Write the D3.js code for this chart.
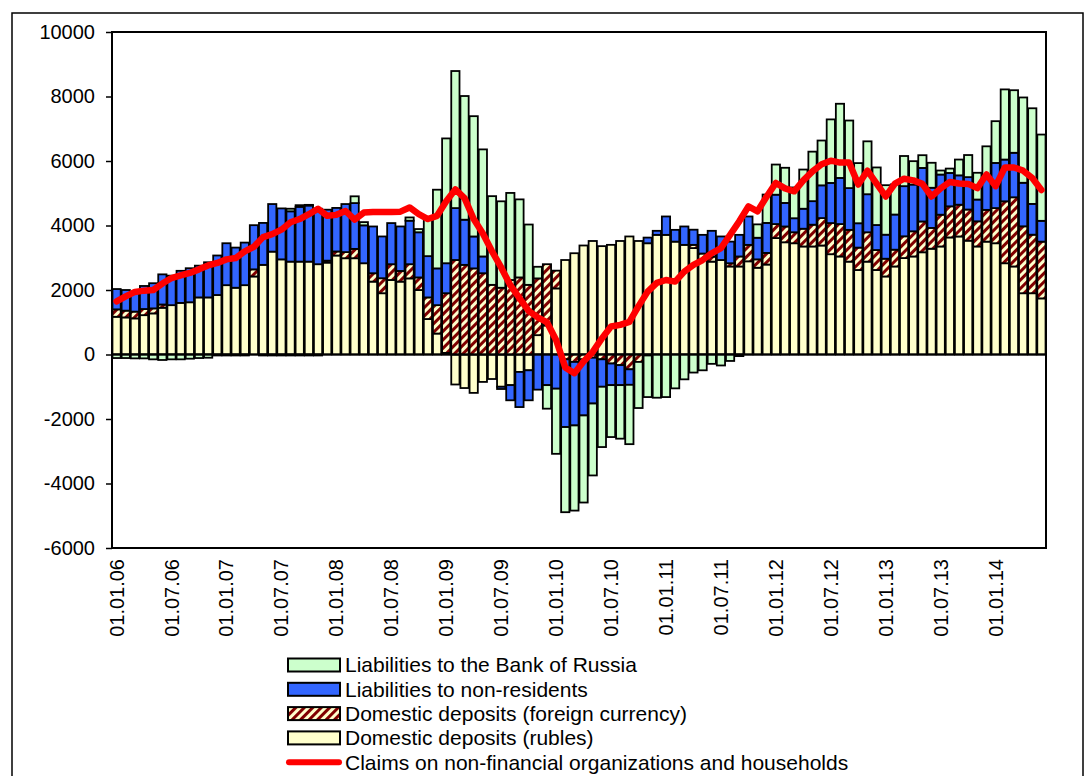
<!DOCTYPE html>
<meta charset="utf-8">

<!-- Load d3.js -->
<script src="https://d3js.org/d3.v7.min.js"></script>

<style>
  body { margin: 0; background: #fff; }
  text { font-family: "Liberation Sans", Arial, sans-serif; }
</style>

<body>
<div id="chart"></div>

<script>

// monthly values, 01.01.06 .. 01.06.14
var rubles = [1170,1150,1120,1220,1275,1450,1530,1600,1620,1770,
  1770,1845,2150,2070,2150,2420,2780,3190,2950,2880,
  2880,2880,2800,2850,3070,2985,2985,2830,2260,1900,
  2310,2260,2360,2000,1100,650,50,-930,-1040,-1190,
  -850,-760,-1000,-950,-540,-490,600,900,2050,2930,
  3140,3380,3520,3360,3400,3520,3660,3520,3450,3710,
  3710,3500,3400,3300,2930,2880,2930,2730,2730,2890,
  2690,2790,3610,3480,3450,3350,3350,3380,3110,3040,
  2880,2620,2880,2620,2420,2730,2990,3040,3170,3280,
  3350,3630,3660,3530,3350,3500,3450,2830,2730,1900,
  1900,1740];

var fxDeposits = [230,210,210,190,155,100,0,0,0,0,
  0,-30,-30,-30,-30,220,-30,-30,-30,-30,
  -30,-30,-30,60,125,190,290,0,260,465,
  490,330,440,390,670,880,1850,2930,2780,2670,
  2520,2160,2070,2310,2390,2160,1760,1900,550,-150,
  -230,-150,-100,-150,-280,-330,-460,-230,-30,0,
  0,0,0,100,200,155,0,100,310,510,
  260,360,435,490,340,550,675,850,965,1005,
  985,695,910,620,550,520,675,780,955,645,
  985,965,985,965,780,985,1090,1920,2145,2075,
  1815,1760];

var nonResidents = [630,640,600,715,780,935,915,995,1055,985,
  1090,1225,1300,1245,1320,1370,1300,1475,1580,1560,
  1700,1740,1720,1580,1350,1490,1420,1175,1450,1295,
  1275,1380,1350,1400,1280,1140,930,1610,1400,990,
  520,0,-70,-470,-1090,-930,-1090,-950,-1060,-2100,
  -1970,-1740,-1420,-850,-670,-620,-480,0,175,125,
  570,365,570,470,580,800,730,670,670,880,
  670,930,910,730,435,620,730,1015,1245,1430,
  1295,755,1180,775,745,1090,1555,1450,1660,1245,
  1245,1035,910,1005,675,1035,1400,1295,1380,1350,
  955,645];

var bankOfRussia = [-110,-110,-120,-120,-150,-170,-150,-150,-130,-110,
  -100,0,0,0,0,0,0,0,0,80,
  50,20,0,0,0,0,210,100,0,0,
  0,0,100,100,1200,2440,3870,4250,3835,3730,
  3320,2750,2680,2700,2420,1870,360,-730,-2020,-2640,
  -2640,-2700,-2230,-1870,-1610,-1660,-1840,-1430,-1290,-1340,
  -1320,-1050,-770,-560,-490,-290,-340,-200,-50,0,
  415,880,935,1090,955,1215,1535,1390,1970,2300,
  2095,1865,1640,1785,1535,935,935,725,395,775,
  125,135,490,685,830,935,1295,2175,1940,2645,
  2965,2675];

var claims = [1650,1800,1940,1980,2000,2200,2370,2450,2530,2640,
  2760,2840,2950,2990,3200,3340,3640,3730,3870,4100,
  4200,4350,4520,4300,4330,4450,4180,4400,4420,4420,
  4420,4430,4560,4350,4200,4300,4750,5120,4850,4200,
  3750,3200,2700,2150,1750,1350,1150,1000,450,-400,
  -580,-220,80,500,870,920,1010,1500,1950,2220,
  2310,2260,2570,2780,2930,3140,3300,3710,4130,4590,
  4440,4900,5320,5150,5060,5400,5680,5900,6010,5950,
  5950,5270,5700,5300,4900,5300,5450,5400,5290,4900,
  5150,5350,5300,5290,5160,5580,5220,5800,5800,5700,
  5470,5100];

// one label every 6 months
var tickLabels = ["01.01.06","01.07.06","01.01.07","01.07.07","01.01.08","01.07.08",
  "01.01.09","01.07.09","01.01.10","01.07.10","01.01.11","01.07.11",
  "01.01.12","01.07.12","01.01.13","01.07.13","01.01.14"];

var yTicks = [10000,8000,6000,4000,2000,0,-2000,-4000,-6000];

var legendNames = ["Liabilities to the Bank of Russia","Liabilities to non-residents",
  "Domestic deposits (foreign currency)","Domestic deposits (rubles)",
  "Claims on non-financial organizations and households"];

var nBars = rubles.length;
var plot = {left: 112, top: 32, right: 1046, bottom: 548};

var svg = d3.select("#chart")
  .append("svg")
    .attr("width", 1092)
    .attr("height", 776);

// hatch for foreign currency deposits
var pat = svg.append("defs").append("pattern")
    .attr("id", "hatch")
    .attr("patternUnits", "userSpaceOnUse")
    .attr("width", 6)
    .attr("height", 6)
    .attr("patternTransform", "rotate(45)");
pat.append("rect").attr("width", 6).attr("height", 6).attr("fill", "#ffffcc");
pat.append("rect").attr("width", 3).attr("height", 6).attr("fill", "#800000");

// outer frame
svg.append("rect")
    .attr("x", 12).attr("y", 13)
    .attr("width", 1071).attr("height", 800)
    .attr("fill", "none").attr("stroke", "#000").attr("stroke-width", 1.5);

var x = d3.scaleBand()
  .domain(d3.range(nBars))
  .range([plot.left, plot.right])
  .paddingInner(0.1)
  .paddingOuter(0.05);

var y = d3.scaleLinear()
  .domain([-6000, 10000])
  .range([plot.bottom, plot.top]);

// stacked bars, negatives stacked downwards
var table = d3.range(nBars).map(function(i) {
  return {i: i, rubles: rubles[i], fx: fxDeposits[i], nr: nonResidents[i], br: bankOfRussia[i]};
});
var keys = ["rubles", "fx", "nr", "br"];
var fills = {rubles: "#ffffcc", fx: "url(#hatch)", nr: "#3366ff", br: "#ccffcc"};

var series = d3.stack().keys(keys).offset(d3.stackOffsetDiverging)(table);

svg.append("g")
  .selectAll("g")
  .data(series)
  .enter().append("g")
    .attr("fill", function(s) { return fills[s.key]; })
  .selectAll("rect")
  .data(function(s) { return s.filter(function(d) { return d[0] != d[1]; }); })
  .enter().append("rect")
    .attr("x", function(d) { return x(d.data.i); })
    .attr("width", x.bandwidth())
    .attr("y", function(d) { return y(Math.max(d[0], d[1])); })
    .attr("height", function(d) { return Math.abs(y(d[0]) - y(d[1])); })
    .attr("stroke", "#000")
    .attr("stroke-width", 1.8);

// zero line
svg.append("line")
    .attr("x1", plot.left).attr("x2", plot.right)
    .attr("y1", y(0)).attr("y2", y(0))
    .attr("stroke", "#000").attr("stroke-width", 1.8);

// claims line
svg.append("path")
    .datum(claims)
    .attr("d", d3.line()
      .x(function(d, i) { return x(i) + x.bandwidth() / 2; })
      .y(function(d) { return y(d); })
    )
    .attr("fill", "none")
    .attr("stroke", "#ff0000")
    .attr("stroke-width", 6.5)
    .attr("stroke-linejoin", "round")
    .attr("stroke-linecap", "round");

// plot border
svg.append("rect")
    .attr("x", plot.left).attr("y", plot.top)
    .attr("width", plot.right - plot.left).attr("height", plot.bottom - plot.top)
    .attr("fill", "none").attr("stroke", "#000").attr("stroke-width", 2);

// Y axis (plain hyphen for negatives)
var yAxis = svg.append("g")
    .attr("transform", "translate(" + plot.left + ",0)")
    .call(d3.axisLeft(y).tickValues(yTicks).tickSize(6).tickPadding(11)
      .tickFormat(function(d) { return String(d); }));
yAxis.select(".domain").remove();
yAxis.selectAll("line").attr("stroke-width", 1.5);
yAxis.selectAll("text")
    .style("font-family", "'Liberation Sans', Arial, sans-serif")
    .style("font-size", "20px")
    .attr("fill", "#000");

// X labels, rotated
svg.append("g")
  .selectAll("text")
  .data(tickLabels)
  .enter().append("text")
    .attr("transform", function(d, k) {
      return "translate(" + (x(k * 6) + x.bandwidth() / 2) + ",559) rotate(-90)";
    })
    .attr("text-anchor", "end")
    .attr("dy", "0.35em")
    .style("font-size", "20px")
    .text(function(d) { return d; });

// legend
var legend = svg.append("g");
var swatchFill = ["#ccffcc", "#3366ff", "url(#hatch)", "#ffffcc"];
legendNames.forEach(function(name, k) {
  var cy = 665 + k * 24.3;
  if (k < 4) {
    legend.append("rect")
        .attr("x", 288).attr("y", cy - 6.5)
        .attr("width", 52).attr("height", 13)
        .attr("fill", swatchFill[k])
        .attr("stroke", "#000").attr("stroke-width", 2);
  } else {
    legend.append("line")
        .attr("x1", 289).attr("x2", 339)
        .attr("y1", cy).attr("y2", cy)
        .attr("stroke", "#ff0000").attr("stroke-width", 6)
        .attr("stroke-linecap", "round");
  }
  legend.append("text")
      .attr("x", 345).attr("y", cy)
      .attr("dy", "0.35em")
      .style("font-size", "21px")
      .text(name);
});

</script>
</body>
